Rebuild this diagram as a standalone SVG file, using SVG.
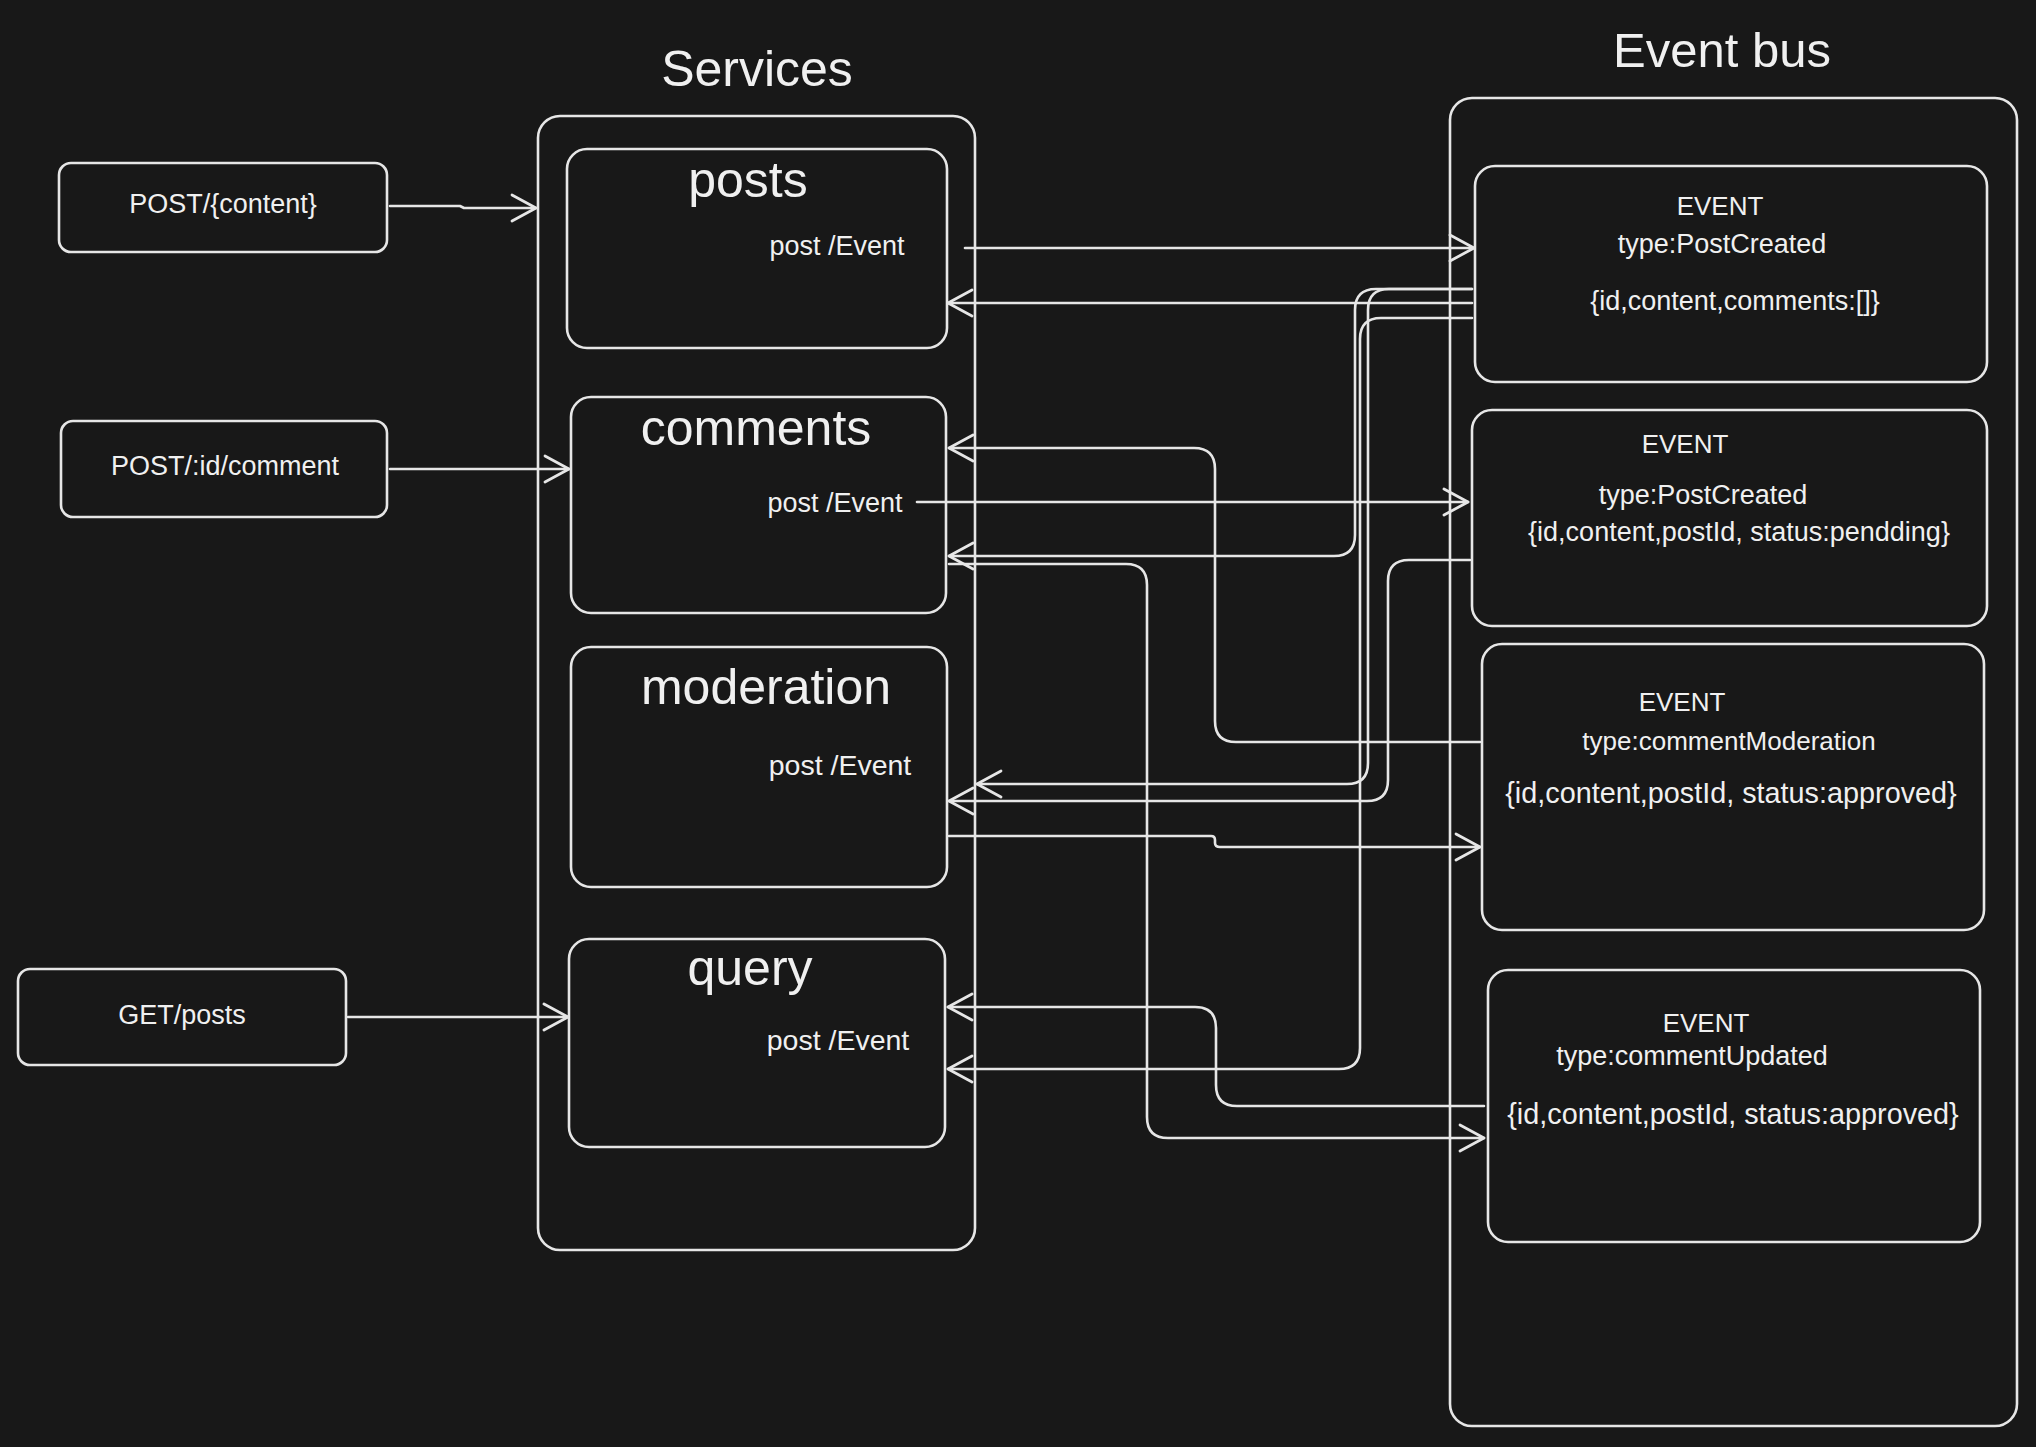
<svg xmlns="http://www.w3.org/2000/svg" width="2036" height="1447" viewBox="0 0 2036 1447">
<defs>
<style>
.bg{fill:#181818}
.box{fill:#181818;stroke:#e6e6e6;stroke-width:2.6}
.ln{fill:none;stroke:#e6e6e6;stroke-width:2.6;stroke-linecap:round;stroke-linejoin:round}
.arr{marker-end:url(#ah)}
text{font-family:"Liberation Sans",Arial,Helvetica,sans-serif;fill:#f0f0f0;text-anchor:middle}
.big{font-size:50px}
.sm{font-size:27px}
</style>
<marker id="ah" markerUnits="userSpaceOnUse" viewBox="-30 -20 40 40" refX="0" refY="0" markerWidth="40" markerHeight="40" orient="auto" overflow="visible">
<path d="M-24,-13 L0,0 L-24,13" fill="none" stroke="#e6e6e6" stroke-width="2.8" stroke-linecap="round" stroke-linejoin="round"/>
</marker>
</defs>
<rect class="bg" x="0" y="0" width="2036" height="1447"/>

<g id="title-services"><text class="big" x="757" y="86">Services</text></g>
<g id="title-eventbus"><text class="big" x="1722" y="67" style="font-size:49px">Event bus</text></g>

<g id="services-container"><rect class="box" x="538" y="116" width="437" height="1134" rx="22"/></g>
<g id="eventbus-container"><rect class="box" x="1450" y="98" width="567" height="1328" rx="22"/></g>

<g id="req-post-content">
<rect class="box" x="59" y="163" width="328" height="89" rx="12"/>
<text class="sm" x="223" y="213">POST/{content}</text>
</g>
<g id="req-post-comment">
<rect class="box" x="61" y="421" width="326" height="96" rx="12"/>
<text class="sm" x="225" y="475">POST/:id/comment</text>
</g>
<g id="req-get-posts">
<rect class="box" x="18" y="969" width="328" height="96" rx="12"/>
<text class="sm" x="182" y="1024">GET/posts</text>
</g>

<g id="svc-posts">
<rect class="box" x="567" y="149" width="380" height="199" rx="20"/>
<text class="big" x="748" y="197">posts</text>
<text class="sm" x="837" y="255">post /Event</text>
</g>
<g id="svc-comments">
<rect class="box" x="571" y="397" width="375" height="216" rx="20"/>
<text class="big" x="756" y="445">comments</text>
<text class="sm" x="835" y="512">post /Event</text>
</g>
<g id="svc-moderation">
<rect class="box" x="571" y="647" width="376" height="240" rx="20"/>
<text class="big" x="766" y="704">moderation</text>
<text class="sm" x="840" y="775" style="font-size:28.5px">post /Event</text>
</g>
<g id="svc-query">
<rect class="box" x="569" y="939" width="376" height="208" rx="20"/>
<text class="big" x="750" y="985">query</text>
<text class="sm" x="838" y="1050" style="font-size:28.5px">post /Event</text>
</g>

<g id="event-postcreated">
<rect class="box" x="1475" y="166" width="512" height="216" rx="20"/>
<text class="sm" x="1720" y="215" style="font-size:26px">EVENT</text>
<text class="sm" x="1722" y="253">type:PostCreated</text>
<text class="sm" x="1735" y="310">{id,content,comments:[]}</text>
</g>
<g id="event-commentcreated">
<rect class="box" x="1472" y="410" width="515" height="216" rx="20"/>
<text class="sm" x="1685" y="453" style="font-size:26px">EVENT</text>
<text class="sm" x="1703" y="504">type:PostCreated</text>
<text class="sm" x="1739" y="541">{id,content,postId, status:pendding}</text>
</g>
<g id="event-commentmoderation">
<rect class="box" x="1482" y="644" width="502" height="286" rx="20"/>
<text class="sm" x="1682" y="711" style="font-size:26px">EVENT</text>
<text class="sm" x="1729" y="750" style="font-size:26px">type:commentModeration</text>
<text class="sm" x="1731" y="803" style="font-size:28.8px">{id,content,postId, status:approved}</text>
</g>
<g id="event-commentupdated">
<rect class="box" x="1488" y="970" width="492" height="272" rx="20"/>
<text class="sm" x="1706" y="1032" style="font-size:26px">EVENT</text>
<text class="sm" x="1692" y="1065">type:commentUpdated</text>
<text class="sm" x="1733" y="1124" style="font-size:28.8px">{id,content,postId, status:approved}</text>
</g>

<g id="connectors">
<path class="ln arr" d="M390,206 L460,206 L464,208 L536,208"/>
<path class="ln arr" d="M390,469 L569,469"/>
<path class="ln arr" d="M348,1017 L568,1017"/>
<path class="ln arr" d="M965,248 L1474,248"/>
<path class="ln arr" d="M1472,303 L948,303"/>
<path class="ln arr" d="M1472,289 L1376,289 Q1355,289 1355,310 L1355,535 Q1355,556 1334,556 L949,556"/>
<path class="ln arr" d="M1472,289 L1389,289 Q1368,289 1368,310 L1368,763 Q1368,784 1347,784 L977,784"/>
<path class="ln arr" d="M1472,318 L1381,318 Q1360,318 1360,339 L1360,1048 Q1360,1069 1339,1069 L948,1069"/>
<path class="ln arr" d="M917,502 L1468,502"/>
<path class="ln arr" d="M1480,742 L1236,742 Q1215,742 1215,721 L1215,469 Q1215,448 1194,448 L949,448"/>
<path class="ln arr" d="M949,564 L1126,564 Q1147,564 1147,585 L1147,1117 Q1147,1138 1168,1138 L1484,1138"/>
<path class="ln arr" d="M1470,560 L1409,560 Q1388,560 1388,581 L1388,780 Q1388,801 1367,801 L949,801"/>
<path class="ln arr" d="M949,836 L1211,836 Q1215,836 1215,840 L1215,843 Q1215,847 1220,847 L1480,847"/>
<path class="ln arr" d="M1484,1106 L1237,1106 Q1216,1106 1216,1085 L1216,1028 Q1216,1007 1195,1007 L948,1007"/>
</g>
</svg>
